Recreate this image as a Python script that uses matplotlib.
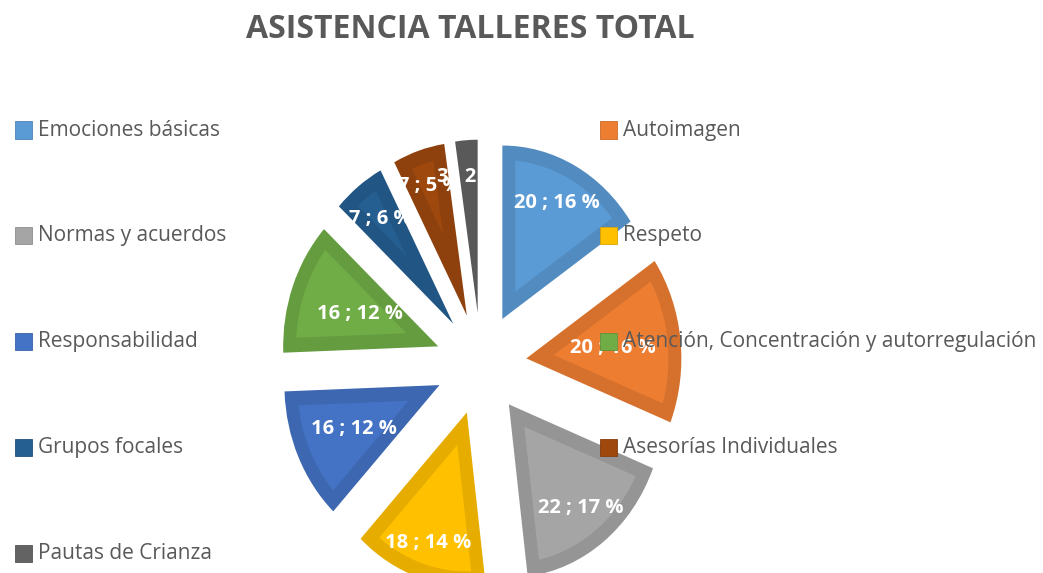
import matplotlib
matplotlib.use('Agg')
import matplotlib.pyplot as plt
from matplotlib.colors import to_rgb
from matplotlib.patches import Polygon, Rectangle
import numpy as np

plt.rcParams['font.family'] = ['Open Sans', 'DejaVu Sans']

talleres = ['Emociones básicas', 'Autoimagen', 'Normas y acuerdos', 'Respeto', 'Responsabilidad',
            'Atención, Concentración y autorregulación', 'Grupos focales', 'Asesorías Individuales',
            'Pautas de Crianza']
asistencia = [20, 20, 22, 18, 16, 16, 7, 7, 3]
porcentaje = [16, 16, 17, 14, 12, 12, 6, 5, 2]

colores = ['#5B9BD5', '#ED7D31', '#A5A5A5', '#FFC000', '#4472C4',
           '#70AD47', '#255E91', '#9E480E', '#636363']
# distance of each data label from the tip of its slice (best-fit placement in the original)
dist_etiqueta = [0.77, 0.57, 0.77, 0.81, 0.62, 0.55, 0.78, 0.8, 0.8]

W, H = 1043, 573
cx, cy = 481, 364   # pie centre, pixels from top-left
sx, sy = 152, 170   # pixels per data unit (chart is stretched vertically)
gris = '#595959'


def darker(c, f=0.9):
    r, g, b = to_rgb(c)
    return (r * f, g * f, b * f)


fig = plt.figure(figsize=(W / 100, H / 100), dpi=100)
ax = fig.add_axes([0, 0, 1, 1])

wedges, _ = ax.pie(asistencia, colors=[darker(c) for c in colores], startangle=90, counterclock=False,
                   explode=[0.3] * len(asistencia), radius=1.02, wedgeprops=dict(linewidth=0))
ax.set_aspect('auto')
ax.set_xlim(-cx / sx, (W - cx) / sx)
ax.set_ylim(-(H - cy) / sy, cy / sy)
ax.axis('off')

# bevel look: lighter inner shape inset from the slice border
t = 0.085
for w, c, lab_d, v, p in zip(wedges, colores, dist_etiqueta, asistencia, porcentaje):
    x0, y0 = w.center
    r = w.r
    th1, th2 = np.radians(w.theta1), np.radians(w.theta2)
    mid = (th1 + th2) / 2
    half = (th2 - th1) / 2
    a = t / np.sin(half)
    rho = r - t
    if a < rho - 0.05:
        dl = np.arcsin(t / rho)
        ang = np.linspace(th1 + dl, th2 - dl, 60)
        pts = [(x0 + a * np.cos(mid), y0 + a * np.sin(mid))]
        pts += list(zip(x0 + rho * np.cos(ang), y0 + rho * np.sin(ang)))
        ax.add_patch(Polygon(pts, closed=True, facecolor=c, edgecolor='none', zorder=2))
    ax.text(x0 + lab_d * np.cos(mid), y0 + lab_d * np.sin(mid), f'{v} ; {p} %',
            ha='center', va='center', color='white', fontsize=14.5, fontweight='bold', zorder=5)

# title
fig.text(470 / W, 1 - 30 / H, 'ASISTENCIA TALLERES TOTAL', ha='center', va='center',
         fontsize=23, fontweight='bold', color=gris)

# legend, two columns filled row by row
for i, (name, c) in enumerate(zip(talleres, colores)):
    row, col = i // 2, i % 2
    x0 = [15, 600][col]
    y = 130 + row * 105.8
    fig.add_artist(Rectangle((x0 / W, 1 - (y + 8.5) / H), 17 / W, 17 / H, transform=fig.transFigure,
                             facecolor=c, edgecolor=darker(c, 0.85), linewidth=0.6))
    fig.text((x0 + 23) / W, 1 - y / H, name, ha='left', va='center', fontsize=15, color=gris)

fig.savefig('out.png', dpi=100)
